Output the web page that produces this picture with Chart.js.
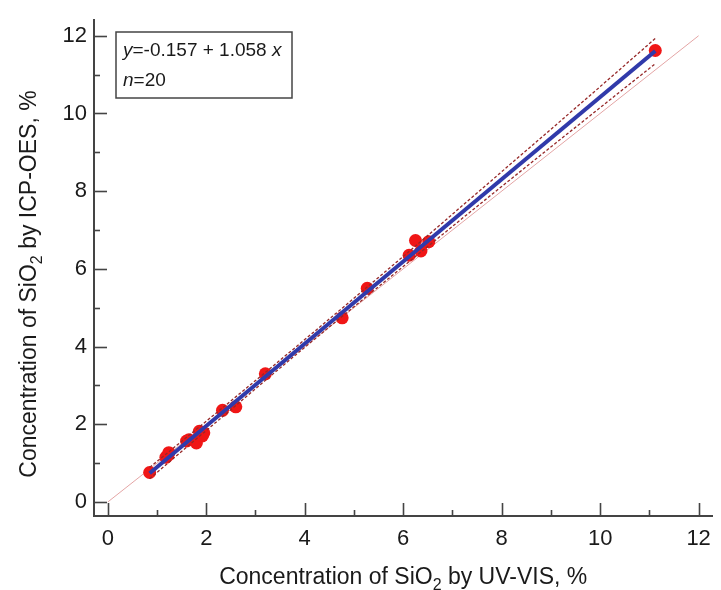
<!DOCTYPE html>
<html><head><meta charset="utf-8">
<script src="https://cdn.jsdelivr.net/npm/chart.js@4/dist/chart.umd.min.js"></script>
<style>html,body{margin:0;padding:0;background:#fff;}#wrap{width:721px;height:590px;}</style>
</head><body><div id="wrap"><canvas id="c" width="721" height="590"></canvas></div>
<script>
// ---- data ----
const uvVis  = [0.85, 1.18, 1.24, 1.22, 1.60, 1.65, 1.80, 1.86, 1.92, 1.95, 2.33, 2.60, 3.20, 4.76, 5.27, 6.12, 6.25, 6.36, 6.52, 11.12];
const icpOes = [0.76, 1.15, 1.27, 1.20, 1.57, 1.60, 1.52, 1.82, 1.70, 1.78, 2.36, 2.45, 3.30, 4.74, 5.50, 6.35, 6.73, 6.46, 6.70, 11.62];
const fitX = [0.85, 11.12];
const fitY = [0.742, 11.608];
const bandX     = [0.85, 2, 4, 6, 8, 10, 11.12];
const bandUpper = [0.89, 2.08, 4.18, 6.32, 8.50, 10.69, 11.93];
const bandLower = [0.60, 1.84, 3.98, 6.06, 8.12, 10.15, 11.28];
const identityX = [0, 12];
const identityY = [0, 12];
const xTicks = [0, 2, 4, 6, 8, 10, 12];
const yTicks = [0, 2, 4, 6, 8, 10, 12];
const eqText = ['y', '=-0.157 + 1.058 ', 'x'];
const nText = ['n', '=20'];
const xTitle = ['Concentration of SiO', '2', ' by UV-VIS, %'];
const yTitle = ['Concentration of SiO', '2', ' by ICP-OES, %'];

const pts = (xs, ys) => xs.map((x, i) => ({x: x, y: ys[i]}));
const FONT = '"Liberation Sans", Arial, sans-serif';

function drawRich(ctx, parts, x, y, size, align) {
  ctx.font = size + 'px ' + FONT;
  const w0 = ctx.measureText(parts[0]).width;
  const w2 = ctx.measureText(parts[2]).width;
  ctx.font = Math.round(size * 0.68) + 'px ' + FONT;
  const w1 = ctx.measureText(parts[1]).width;
  const total = w0 + w1 + w2;
  let sx = align === 'center' ? x - total / 2 : x;
  ctx.textAlign = 'left';
  ctx.textBaseline = 'alphabetic';
  ctx.font = size + 'px ' + FONT;
  ctx.fillText(parts[0], sx, y);
  ctx.font = Math.round(size * 0.68) + 'px ' + FONT;
  ctx.fillText(parts[1], sx + w0, y + size * 0.26);
  ctx.font = size + 'px ' + FONT;
  ctx.fillText(parts[2], sx + w0 + w1, y);
}

const decor = {
  id: 'decor',
  afterDraw(chart) {
    const ctx = chart.ctx, xs = chart.scales.x, ys = chart.scales.y, ca = chart.chartArea;
    ctx.save();
    ctx.strokeStyle = '#444';
    ctx.lineWidth = 1.6;
    for (let v = 0; v <= 12; v++) {
      const L = v % 2 === 0 ? 13 : 6;
      const px = Math.round(xs.getPixelForValue(v)) + 0.5;
      ctx.beginPath(); ctx.moveTo(px, ca.bottom); ctx.lineTo(px, ca.bottom - L); ctx.stroke();
      const py = Math.round(ys.getPixelForValue(v)) + 0.5;
      ctx.beginPath(); ctx.moveTo(ca.left, py); ctx.lineTo(ca.left + L, py); ctx.stroke();
    }
    ctx.fillStyle = '#1a1a1a';
    drawRich(ctx, xTitle, (ca.left + ca.right) / 2, 584, 23, 'center');
    ctx.save();
    ctx.translate(36, 284);
    ctx.rotate(-Math.PI / 2);
    drawRich(ctx, yTitle, 0, 0, 23, 'center');
    ctx.restore();
    ctx.strokeStyle = '#444';
    ctx.lineWidth = 1.5;
    ctx.strokeRect(116, 32, 176, 66);
    ctx.fillStyle = '#1a1a1a';
    ctx.textBaseline = 'alphabetic';
    ctx.textAlign = 'left';
    let x = 123;
    ctx.font = 'italic 19px ' + FONT; ctx.fillText(eqText[0], x, 56); x += ctx.measureText(eqText[0]).width;
    ctx.font = '19px ' + FONT; ctx.fillText(eqText[1], x, 56); x += ctx.measureText(eqText[1]).width;
    ctx.font = 'italic 19px ' + FONT; ctx.fillText(eqText[2], x, 56);
    x = 123;
    ctx.font = 'italic 19px ' + FONT; ctx.fillText(nText[0], x, 86); x += ctx.measureText(nText[0]).width;
    ctx.font = '19px ' + FONT; ctx.fillText(nText[1], x, 86);
    ctx.restore();
  }
};

new Chart(document.getElementById('c'), {
  type: 'scatter',
  data: {
    datasets: [
      { label: 'fit', type: 'line', data: pts(fitX, fitY), borderColor: 'rgb(48,58,170)', borderWidth: 4, pointRadius: 0, fill: false },
      { label: 'upper', type: 'line', data: pts(bandX, bandUpper), borderColor: 'rgb(150,40,40)', borderWidth: 1.3, borderDash: [3, 2], pointRadius: 0, fill: false, cubicInterpolationMode: 'monotone' },
      { label: 'lower', type: 'line', data: pts(bandX, bandLower), borderColor: 'rgb(150,40,40)', borderWidth: 1.3, borderDash: [3, 2], pointRadius: 0, fill: false, cubicInterpolationMode: 'monotone' },
      { label: 'data', data: pts(uvVis, icpOes), backgroundColor: 'rgb(240,22,22)', borderColor: 'rgb(240,22,22)', pointRadius: 6.5, borderWidth: 0 },
      { label: '1:1', type: 'line', data: pts(identityX, identityY), borderColor: 'rgb(228,165,165)', borderWidth: 1, pointRadius: 0, fill: false }
    ]
  },
  options: {
    responsive: false,
    animation: false,
    devicePixelRatio: 1,
    layout: { padding: { top: 13, right: 3, left: 0, bottom: 0 } },
    plugins: { legend: { display: false }, tooltip: { enabled: false } },
    scales: {
      x: {
        type: 'linear', min: -0.28, max: 12.28,
        afterBuildTicks: s => { s.ticks = xTicks.map(v => ({value: v})); },
        afterFit: s => { s.height = 74; },
        grid: { display: false, drawTicks: false },
        border: { display: true, color: '#444', width: 2 },
        ticks: { color: '#1a1a1a', font: { family: FONT, size: 22 }, padding: 10, maxRotation: 0, autoSkip: false }
      },
      y: {
        type: 'linear', min: -0.36, max: 12.40,
        afterBuildTicks: s => { s.ticks = yTicks.map(v => ({value: v})); },
        afterFit: s => { s.width = 94; },
        grid: { display: false, drawTicks: false },
        border: { display: true, color: '#444', width: 2 },
        ticks: { color: '#1a1a1a', font: { family: FONT, size: 22 }, padding: 7, autoSkip: false }
      }
    }
  },
  plugins: [decor]
});
</script>
</body></html>
